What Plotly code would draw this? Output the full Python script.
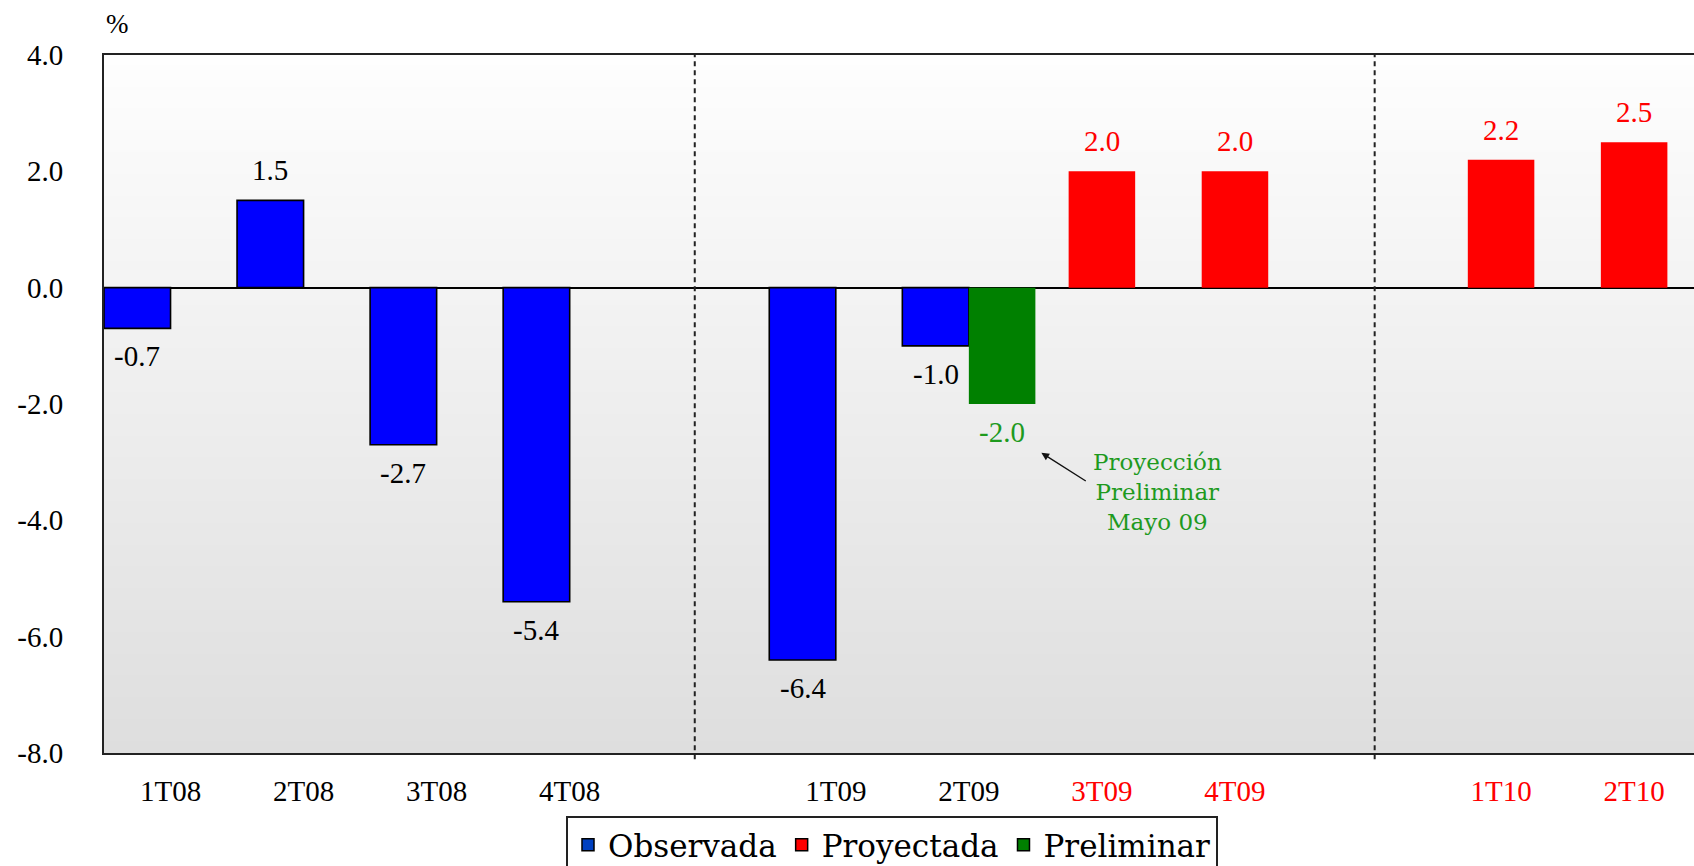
import base64
import struct
import zlib

import plotly.graph_objects as go

# Quarter slots along the x axis (empty strings are spacer slots between years)
slots = ["1T08", "2T08", "3T08", "4T08", "", "1T09", "2T09", "3T09", "4T09", "", "1T10", "2T10"]
projected_quarters = ["3T09", "4T09", "1T10", "2T10"]

# Series values (%)
obs_quarters = ["1T08", "2T08", "3T08", "4T08", "1T09", "2T09"]
obs_values = [-0.7, 1.5, -2.7, -5.4, -6.4, -1.0]

proj_quarters = ["3T09", "4T09", "1T10", "2T10"]
proj_values = [2.0, 2.0, 2.2, 2.5]

prel_quarters = ["2T09"]
prel_values = [-2.0]

y_ticks = [4.0, 2.0, 0.0, -2.0, -4.0, -6.0, -8.0]

LABEL_FONT = "Liberation Serif"
BLUE = "#0000FF"
RED = "#FF0000"
GREEN = "#008000"
LABEL_GREEN = "#1E9A1E"

def pos(q):
    return slots.index(q)

obs_x = [pos(q) for q in obs_quarters]
proj_x = [pos(q) for q in proj_quarters]
prel_x = [pos(q) for q in prel_quarters]


def gradient_png(top, bottom, rows=256, cols=2):
    """Small vertical gradient PNG encoded as a data URI."""
    raw = b""
    for r in range(rows):
        t = r / (rows - 1)
        v = bytes(int(round(top[i] + (bottom[i] - top[i]) * t)) for i in range(3))
        raw += b"\x00" + v * cols
    def chunk(tag, data):
        c = struct.pack(">I", len(data)) + tag + data
        return c + struct.pack(">I", zlib.crc32(tag + data) & 0xFFFFFFFF)
    png = b"\x89PNG\r\n\x1a\n"
    png += chunk(b"IHDR", struct.pack(">IIBBBBB", cols, rows, 8, 2, 0, 0, 0))
    png += chunk(b"IDAT", zlib.compress(raw, 9))
    png += chunk(b"IEND", b"")
    return "data:image/png;base64," + base64.b64encode(png).decode()


fig = go.Figure()

# Observed bars sit in the left half of each quarter slot
fig.add_trace(go.Bar(
    x=obs_x, y=obs_values, offset=-0.5, width=0.5,
    marker=dict(color=BLUE, line=dict(color="#000000", width=1.6)),
    showlegend=False, hoverinfo="skip",
))
# Preliminary projection sits in the right half
fig.add_trace(go.Bar(
    x=prel_x, y=prel_values, offset=0.0, width=0.5,
    marker=dict(color=GREEN, line=dict(width=0)),
    showlegend=False, hoverinfo="skip",
))
# Projected bars are centred on their quarter
fig.add_trace(go.Bar(
    x=proj_x, y=proj_values, offset=-0.25, width=0.5,
    marker=dict(color=RED, line=dict(width=0)),
    showlegend=False, hoverinfo="skip",
))

# Legend entries
for name, color in [("Observada", "#0040C0"), ("Proyectada", RED), ("Preliminar", GREEN)]:
    fig.add_trace(go.Bar(
        x=[None], y=[None], name=name,
        marker=dict(color=color, line=dict(color="#000000", width=1.5)),
    ))

annotations = []

def value_labels(xs, vals, dx, color):
    for x, v in zip(xs, vals):
        annotations.append(dict(
            x=x + dx, y=v, xref="x", yref="y", text=f"{v:.1f}",
            showarrow=False, yanchor="middle", xanchor="center",
            yshift=30 if v >= 0 else -28,
            font=dict(family=LABEL_FONT, size=29, color=color),
        ))

value_labels(obs_x, obs_values, -0.25, "#000000")
value_labels(prel_x, prel_values, 0.25, LABEL_GREEN)
value_labels(proj_x, proj_values, 0.0, RED)

# Note on the preliminary projection, with an arrow back to its label
annotations.append(dict(
    x=6.545, y=-2.84, ax=6.89, ay=-3.34, xref="x", yref="y", axref="x", ayref="y",
    text="", showarrow=True, arrowhead=2, arrowsize=1.1, arrowwidth=1.4,
    arrowcolor="#111111",
))
annotations.append(dict(
    x=7.42, y=-3.51, xref="x", yref="y",
    text="Proyección<br>Preliminar<br>Mayo 09",
    showarrow=False, xanchor="center", yanchor="middle", align="center",
    font=dict(family="DejaVu Serif", size=23, color=LABEL_GREEN),
))
# Unit label above the y axis
annotations.append(dict(
    x=(117 - 104) / 1590, y=1 + (55 - 24) / 698, xref="paper", yref="paper",
    text="%", showarrow=False, xanchor="center", yanchor="middle",
    font=dict(family=LABEL_FONT, size=27, color="#000000"),
))

tick_vals = [i for i, q in enumerate(slots) if q]
tick_text = [
    f"<span style='color:{RED}'>{q}</span>" if q in projected_quarters else q
    for q in slots if q
]

shapes = []
# Dashed separators between years
for xv in (3.94, 9.05):
    shapes.append(dict(
        type="line", xref="x", yref="paper", x0=xv, x1=xv, y0=-0.009, y1=1,
        line=dict(color="#222222", width=2, dash="5px,4px"),
    ))

fig.update_layout(
    width=1694, height=866, autosize=False,
    margin=dict(l=104, r=0, t=55, b=113, pad=0, autoexpand=False),
    paper_bgcolor="#FFFFFF",
    plot_bgcolor="rgba(0,0,0,0)",
    barmode="overlay",
    images=[dict(
        source=gradient_png((254, 254, 254), (222, 222, 222)),
        xref="paper", yref="paper", x=0, y=1, sizex=1, sizey=1,
        xanchor="left", yanchor="top", sizing="stretch", layer="below",
    )],
    xaxis=dict(
        range=[-0.5, 11.45], tickvals=tick_vals, ticktext=tick_text,
        showgrid=False, zeroline=False, ticks="",
        showline=True, mirror=True, linecolor="#222222", linewidth=2,
        ticklabelstandoff=11,
        tickfont=dict(family=LABEL_FONT, size=29, color="#000000"),
        fixedrange=True,
    ),
    yaxis=dict(
        range=[-8, 4], tickvals=y_ticks, ticktext=[f"{v:.1f}" for v in y_ticks],
        showgrid=False, zeroline=True, zerolinecolor="#000000", zerolinewidth=2,
        showline=True, mirror=False, linecolor="#222222", linewidth=2, ticks="",
        ticklabelstandoff=33,
        tickfont=dict(family=LABEL_FONT, size=29, color="#000000"),
        fixedrange=True,
    ),
    legend=dict(
        orientation="h", x=(566 - 104) / 1590, y=-(816 - 753) / 698,
        xanchor="left", yanchor="top",
        bgcolor="#FFFFFF", bordercolor="#222222", borderwidth=2,
        font=dict(family="DejaVu Serif", size=31, color="#000000"),
        traceorder="normal", itemclick=False, itemdoubleclick=False,
    ),
    annotations=annotations,
    shapes=shapes,
    showlegend=True,
)

fig.write_html("out.html", config={"displayModeBar": False})
